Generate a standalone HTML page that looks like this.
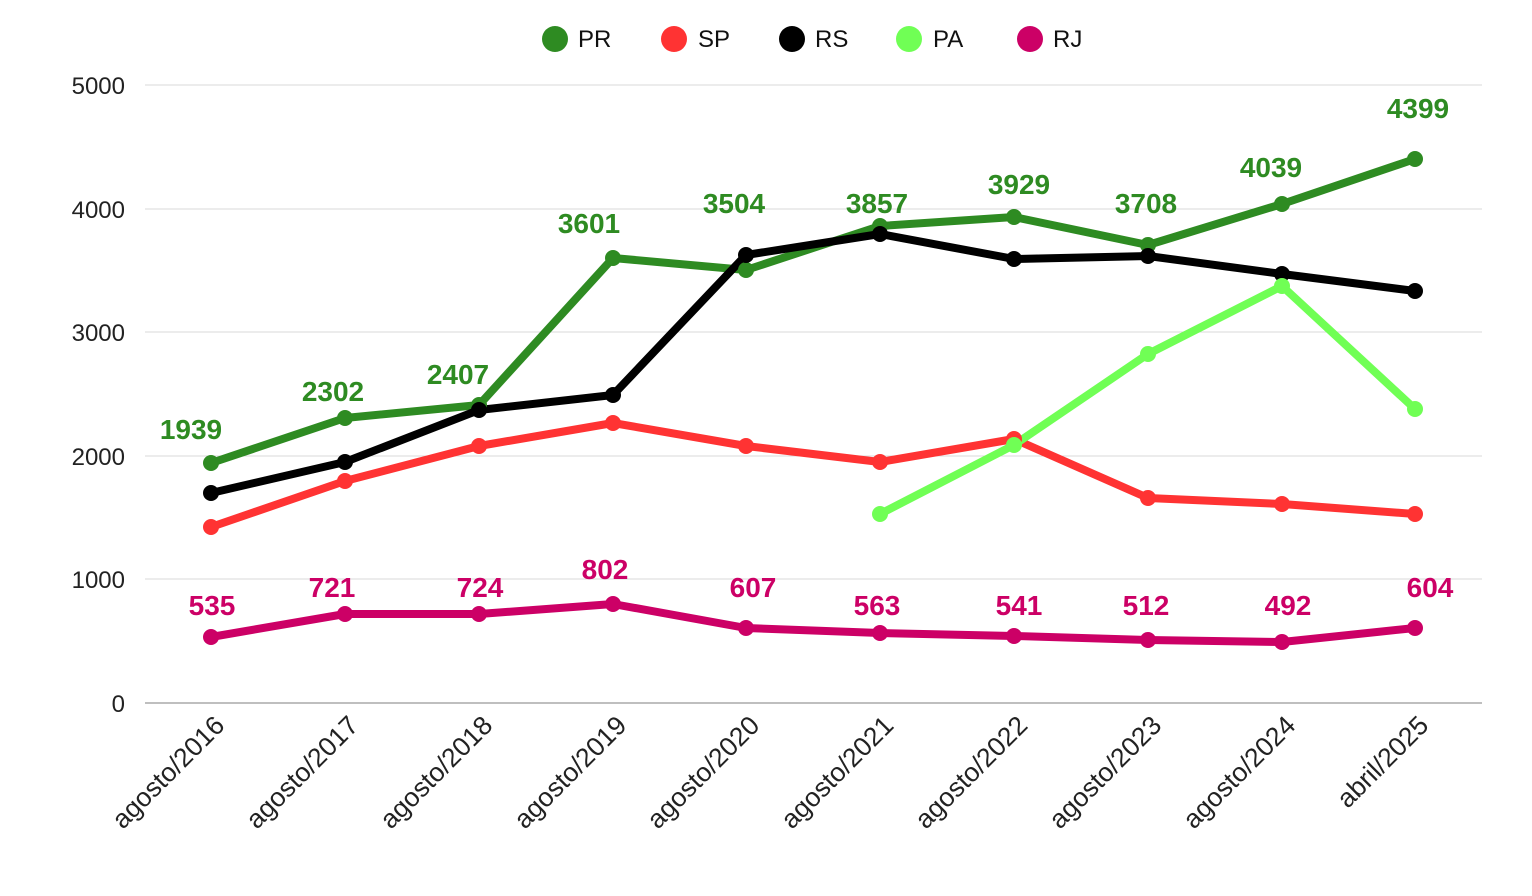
<!DOCTYPE html>
<html><head><meta charset="utf-8"><style>body{margin:0;background:#fff}svg{display:block}text{font-family:"Liberation Sans",sans-serif}</style></head><body>
<svg width="1532" height="896" viewBox="0 0 1532 896">
<g stroke="#d9d9d9" stroke-width="1">
<line x1="145" x2="1482" y1="85" y2="85"/><line x1="145" x2="1482" y1="209" y2="209"/><line x1="145" x2="1482" y1="332" y2="332"/><line x1="145" x2="1482" y1="456" y2="456"/><line x1="145" x2="1482" y1="579" y2="579"/>
</g>
<line x1="145" x2="1482" y1="703" y2="703" stroke="#999" stroke-width="1.2"/>
<g font-size="24" fill="#222" text-anchor="end">
<text x="125" y="94">5000</text><text x="125" y="218">4000</text><text x="125" y="341">3000</text><text x="125" y="465">2000</text><text x="125" y="588">1000</text><text x="125" y="712">0</text>
</g>
<g font-size="26.5" fill="#222" text-anchor="end">
<text transform="translate(226,727) rotate(-45)">agosto/2016</text>
<text transform="translate(360,727) rotate(-45)">agosto/2017</text>
<text transform="translate(494,727) rotate(-45)">agosto/2018</text>
<text transform="translate(628,727) rotate(-45)">agosto/2019</text>
<text transform="translate(761,727) rotate(-45)">agosto/2020</text>
<text transform="translate(895,727) rotate(-45)">agosto/2021</text>
<text transform="translate(1029,727) rotate(-45)">agosto/2022</text>
<text transform="translate(1163,727) rotate(-45)">agosto/2023</text>
<text transform="translate(1297,727) rotate(-45)">agosto/2024</text>
<text transform="translate(1430,727) rotate(-45)">abril/2025</text>
</g>
<g fill="none" stroke-width="8" stroke-linejoin="round" stroke-linecap="round">
<polyline stroke="#ff3333" points="211,527 345,481 479,446 613,423 746,446 880,462 1014,439 1148,498 1282,504 1415,514"/>
<polyline stroke="#2e8b22" points="211,463 345,418 479,405 613,258 746,270 880,226 1014,217 1148,245 1282,204 1415,159"/>
<polyline stroke="#000" points="211,493 345,462 479,410 613,395 746,255 880,234 1014,259 1148,256 1282,274 1415,291"/>
<polyline stroke="#70ff55" points="880,514 1014,445 1148,354 1282,286 1415,409"/>
<polyline stroke="#cc0066" points="211,637 345,614 479,614 613,604 746,628 880,633 1014,636 1148,640 1282,642 1415,628"/>
</g>
<g fill="#ff3333"><circle cx="211" cy="527" r="8"/><circle cx="345" cy="481" r="8"/><circle cx="479" cy="446" r="8"/><circle cx="613" cy="423" r="8"/><circle cx="746" cy="446" r="8"/><circle cx="880" cy="462" r="8"/><circle cx="1014" cy="439" r="8"/><circle cx="1148" cy="498" r="8"/><circle cx="1282" cy="504" r="8"/><circle cx="1415" cy="514" r="8"/></g>
<g fill="#2e8b22"><circle cx="211" cy="463" r="8"/><circle cx="345" cy="418" r="8"/><circle cx="479" cy="405" r="8"/><circle cx="613" cy="258" r="8"/><circle cx="746" cy="270" r="8"/><circle cx="880" cy="226" r="8"/><circle cx="1014" cy="217" r="8"/><circle cx="1148" cy="245" r="8"/><circle cx="1282" cy="204" r="8"/><circle cx="1415" cy="159" r="8"/></g>
<g fill="#000"><circle cx="211" cy="493" r="8"/><circle cx="345" cy="462" r="8"/><circle cx="479" cy="410" r="8"/><circle cx="613" cy="395" r="8"/><circle cx="746" cy="255" r="8"/><circle cx="880" cy="234" r="8"/><circle cx="1014" cy="259" r="8"/><circle cx="1148" cy="256" r="8"/><circle cx="1282" cy="274" r="8"/><circle cx="1415" cy="291" r="8"/></g>
<g fill="#70ff55"><circle cx="880" cy="514" r="8"/><circle cx="1014" cy="445" r="8"/><circle cx="1148" cy="354" r="8"/><circle cx="1282" cy="286" r="8"/><circle cx="1415" cy="409" r="8"/></g>
<g fill="#cc0066"><circle cx="211" cy="637" r="8"/><circle cx="345" cy="614" r="8"/><circle cx="479" cy="614" r="8"/><circle cx="613" cy="604" r="8"/><circle cx="746" cy="628" r="8"/><circle cx="880" cy="633" r="8"/><circle cx="1014" cy="636" r="8"/><circle cx="1148" cy="640" r="8"/><circle cx="1282" cy="642" r="8"/><circle cx="1415" cy="628" r="8"/></g>
<g font-size="28" font-weight="bold" fill="#2e8b22" text-anchor="middle">
<text x="191" y="439">1939</text><text x="333" y="401">2302</text><text x="458" y="384">2407</text><text x="589" y="233">3601</text><text x="734" y="213">3504</text><text x="877" y="213">3857</text><text x="1019" y="194">3929</text><text x="1146" y="213">3708</text><text x="1271" y="177">4039</text><text x="1418" y="118">4399</text>
</g>
<g font-size="28" font-weight="bold" fill="#cc0066" text-anchor="middle">
<text x="212" y="615">535</text><text x="332" y="597">721</text><text x="480" y="597">724</text><text x="605" y="579">802</text><text x="753" y="597">607</text><text x="877" y="615">563</text><text x="1019" y="615">541</text><text x="1146" y="615">512</text><text x="1288" y="615">492</text><text x="1430" y="597">604</text>
</g>
<g font-size="24" fill="#111">
<circle cx="555" cy="39" r="13" fill="#2e8b22"/><text x="578" y="47">PR</text>
<circle cx="674" cy="39" r="13" fill="#ff3333"/><text x="698" y="47">SP</text>
<circle cx="792" cy="39" r="13" fill="#000"/><text x="815" y="47">RS</text>
<circle cx="909" cy="39" r="13" fill="#70ff55"/><text x="933" y="47">PA</text>
<circle cx="1030" cy="39" r="13" fill="#cc0066"/><text x="1053" y="47">RJ</text>
</g>
</svg>
</body></html>
